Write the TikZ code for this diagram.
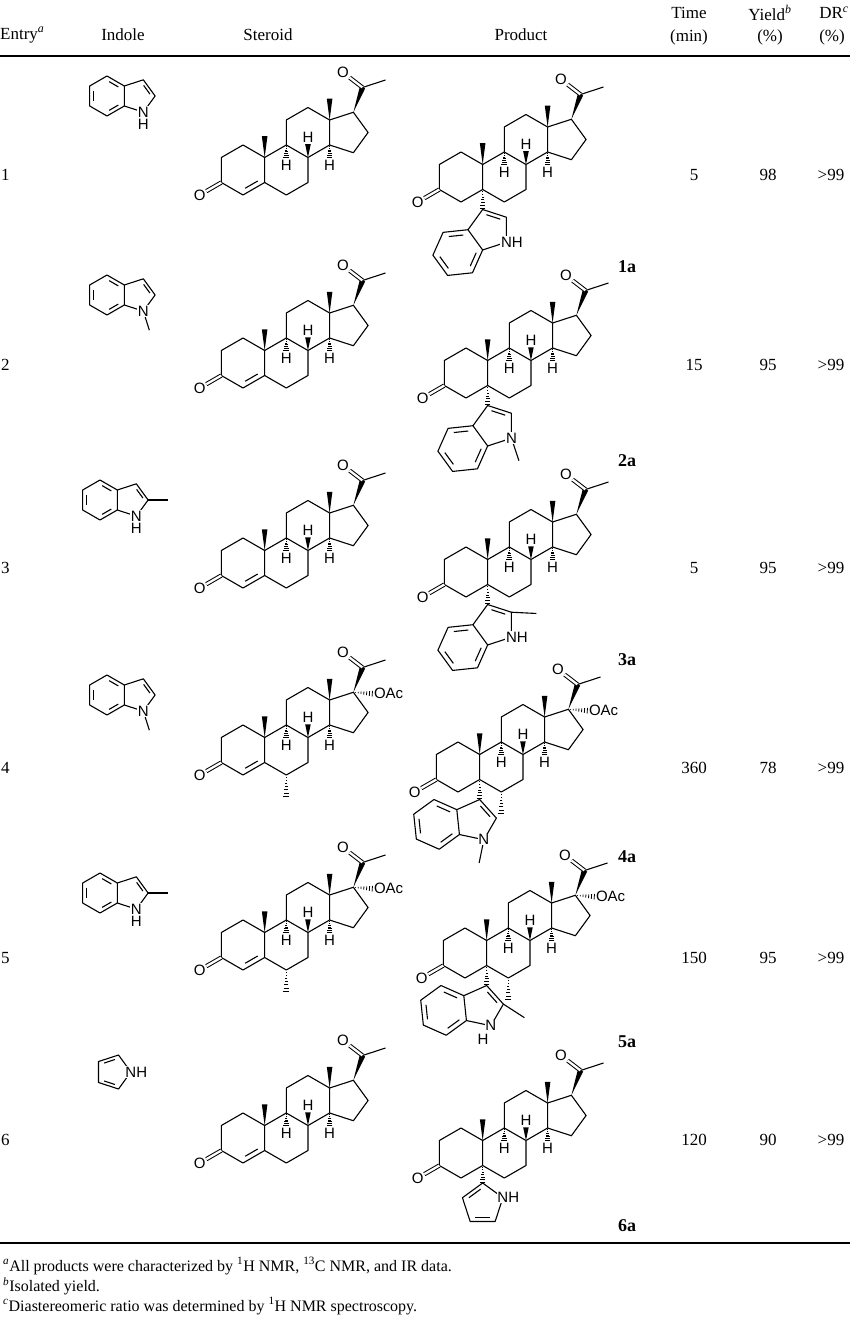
\documentclass[tikz,border=0pt]{standalone}
\usepackage{fontspec}
\setmainfont{Liberation Serif}
\newfontfamily\chemf{Liberation Sans}
\usetikzlibrary{calc}
\tikzset{
 bond/.style={line width=1.1pt},
 atom/.style={font=\chemf\fontsize{15}{15}\selectfont, inner sep=0.6pt, fill=white},
 dbl/.style={double, double distance=2.3pt, line width=1pt},
 txt/.style={font=\fontsize{17}{20}\selectfont, inner sep=0pt},
 foot/.style={font=\fontsize{16}{19}\selectfont, inner sep=0pt, anchor=west},
 lab/.style={font=\bfseries\fontsize{18}{20}\selectfont, inner sep=0pt},
}
\newcommand\wdg[2]{\fill ($(#1)$) -- ($(#2)!2.8pt!90:(#1)$) -- ($(#2)!2.8pt!-90:(#1)$) -- cycle;}
\newcommand\hsh[2]{\foreach \t in {0.1,0.24,0.38,0.52,0.66,0.8,0.94}{\coordinate (hq) at ($(#1)!\t!(#2)$); \draw[line width=0.8pt] ($(hq)!{\t*3pt}!90:(#2)$) -- ($(hq)!{\t*3pt}!-90:(#2)$);}}
\newcommand\inb[3]{\draw[bond, shorten <=2.5pt, shorten >=2.5pt] ($(#1)!.22!(#3)$) -- ($(#2)!.22!(#3)$);}
\newcommand\steroid[2]{%
 \coordinate (ra) at (0,0);
 \coordinate (c1) at (0,1); \coordinate (c2) at (-.866,.5); \coordinate (c3) at (-.866,-.5);
 \coordinate (c4) at (0,-1); \coordinate (c5) at (.866,-.5); \coordinate (c10) at (.866,.5);
 \coordinate (c9) at (1.732,1); \coordinate (c8) at (2.598,.5); \coordinate (c7) at (2.598,-.5);
 \coordinate (c6) at (1.732,-1); \coordinate (c14) at (3.464,1); \coordinate (c13) at (3.464,2);
 \coordinate (c12) at (2.598,2.5); \coordinate (c11) at (1.732,2); \coordinate (c15) at (4.415,.691);
 \coordinate (c16) at (5.003,1.5); \coordinate (c17) at (4.415,2.309);
 \draw[bond,line join=round] (c1)--(c2)--(c3)--(c4)--(c5)--(c10)--cycle (c5)--(c6)--(c7)--(c8)--(c9)--(c10)
   (c9)--(c11)--(c12)--(c13)--(c14)--(c8) (c14)--(c15)--(c16)--(c17)--(c13);
 \ifnum#1=1 \inb{c4}{c5}{ra}\fi
 \coordinate (m10) at (.866,1.35); \wdg{c10}{m10}
 \coordinate (m13) at (3.464,2.85); \wdg{c13}{m13}
 \coordinate (h8) at (2.598,1.03); \wdg{c8}{h8}
 \node[atom,fill=none] at (2.598,1.32) {H};
 \coordinate (h9) at (1.732,0.47); \hsh{c9}{h9}
 \node[atom,fill=none] at (1.732,0.18) {H};
 \coordinate (h14) at (3.464,0.47); \hsh{c14}{h14}
 \node[atom,fill=none] at (3.464,0.18) {H};
 \coordinate (c20) at (4.78,3.3); \wdg{c17}{c20}
 \node[atom] (o20) at (4.0,3.9) {O}; \draw[dbl] (c20) -- (o20);
 \coordinate (c21) at (5.7,3.6); \draw[bond] (c20) -- (c21);
 \node[atom] (o3) at (-1.732,-1) {O}; \draw[dbl] (c3) -- (o3);
 \ifnum#2=1
  \coordinate (oa) at (5.22,2.25); \hsh{c17}{oa}
  \node[atom,anchor=west,inner sep=0.3pt] at (oa) {OAc};
  \coordinate (m6) at (1.732,-1.9); \hsh{c6}{m6}
 \fi}
% product indole attached at (i3); #1: 1 NH right, 2 N-Me, 3 NH + 2-Me, 4 N/H below + 2-Me; #2 rotation
\newcommand\pindole[2]{%
 \begin{scope}[shift={(i3)},rotate=#2]
 \coordinate (a3) at (0,0); \coordinate (a2) at (0.951,-0.309); \coordinate (an) at (0.951,-1.309);
 \coordinate (a7a) at (0,-1.618); \coordinate (a3a) at (-0.588,-0.809); \coordinate (a4) at (-1.583,-0.914);
 \coordinate (a5) at (-1.990,-1.828); \coordinate (a6) at (-1.402,-2.637); \coordinate (a7) at (-0.407,-2.532);
 \coordinate (pc) at (0.263,-0.809); \coordinate (hc) at (-0.995,-1.723);
 \draw[bond,line join=round] (a3)--(a2)--(an)--(a7a)--(a3a)--cycle (a3a)--(a4)--(a5)--(a6)--(a7)--(a7a);
 \inb{a3}{a2}{pc}\inb{a3a}{a4}{hc}\inb{a5}{a6}{hc}\inb{a7}{a7a}{hc}
 \ifnum#1=2 \coordinate (nm) at ($(an)+(0.3,-0.9)$); \draw[bond] (an) -- (nm);\fi
 \ifnum#1>2 \coordinate (cm) at ($(a2)+(1,-0.05)$); \draw[bond] (a2) -- (cm);\fi
 \ifnum#1=1 \node[atom] at (an) {N\rlap{H}};\fi
 \ifnum#1=3 \node[atom] at (an) {N\rlap{H}};\fi
 \ifnum#1=2 \node[atom] at (an) {N};\fi
 \ifnum#1=4 \node[atom] at (an) {N}; \node[atom] at ($(an)+(0,-0.62)$) {H};\fi
 \end{scope}}
\newcommand\ppyr{%
 \begin{scope}[shift={(i3)}]
 \coordinate (q2) at (0,0); \coordinate (qn) at (0.809,-0.588); \coordinate (q5) at (0.5,-1.539);
 \coordinate (q4) at (-0.5,-1.539); \coordinate (q3) at (-0.809,-0.588); \coordinate (qc) at (0,-0.851);
 \draw[bond,line join=round] (q2)--(qn)--(q5)--(q4)--(q3)--cycle;
 \inb{q2}{q3}{qc}\inb{q4}{q5}{qc}
 \node[atom] at (qn) {N\rlap{H}};
 \end{scope}}
% standalone indole, origin at benzene centre; #1: 1 NH below, 2 N-Me, 3 NH below + 2-Me
\newcommand\sindole[1]{%
 \coordinate (bc) at (0,0);
 \coordinate (b4) at (0,1); \coordinate (b3a) at (.866,.5); \coordinate (b7a) at (.866,-.5);
 \coordinate (b7) at (0,-1); \coordinate (b6) at (-.866,-.5); \coordinate (b5) at (-.866,.5);
 \coordinate (b3) at (1.817,0.809); \coordinate (b2) at (2.405,0); \coordinate (bn) at (1.817,-0.809);
 \coordinate (bp) at (1.554,0);
 \draw[bond,line join=round] (b4)--(b3a)--(b7a)--(b7)--(b6)--(b5)--cycle (b3a)--(b3)--(b2)--(bn)--(b7a);
 \inb{b3a}{b4}{bc}\inb{b5}{b6}{bc}\inb{b7}{b7a}{bc}\inb{b3}{b2}{bp}
 \ifnum#1=2 \coordinate (nm) at ($(bn)+(0.3,-0.95)$); \draw[bond] (bn) -- (nm); \node[atom] at (bn) {N};\fi
 \ifnum#1=3 \coordinate (cm) at ($(b2)+(1,0)$); \draw[bond] (b2) -- (cm);\fi
 \ifnum#1=2 \else \node[atom] at (bn) {N}; \node[atom] at ($(bn)+(0,-0.62)$) {H};\fi}
\begin{document}
\begin{tikzpicture}[x=1pt,y=-1pt]
\useasboundingbox (0,0) rectangle (850,1324);
% header
\node[txt,anchor=west] (hE) at (0,35) {Entry\textsuperscript{\itshape a}};
\node[txt] (hI) at (123,35) {Indole};
\node[txt] (hS) at (268,35) {Steroid};
\node[txt] (hP) at (521,35) {Product};
\node[txt] (hT1) at (689,13) {Time};
\node[txt] (hT2) at (689,37) {(min)};
\node[txt] (hY1) at (770,13) {Yield\textsuperscript{\itshape b}};
\node[txt] (hY2) at (770,37) {(\%)};
\node[txt] (hD1) at (834,13) {DR\textsuperscript{\itshape c}};
\node[txt] (hD2) at (832,37) {(\%)};
\draw[line width=2pt] (0,56) -- (850,56);
\draw[line width=2pt] (0,1243) -- (850,1243);
% rows: entry, time, yield, DR
\foreach \y/\e/\ti/\yi in {175/1/5/98, 365/2/15/95, 568/3/5/95, 768/4/360/78, 958/5/150/95, 1140/6/120/90}{
 \node[txt,anchor=west] at (1,\y) {\e};
 \node[txt] at (694,\y) {\ti};
 \node[txt] at (768,\y) {\yi};
 \node[txt] at (831,\y) {>99};
}
% indoles
\begin{scope}[shift={(107,96)},x=20pt,y=20pt] \sindole{1} \end{scope}
\begin{scope}[shift={(107,295)},x=20pt,y=20pt] \sindole{2} \end{scope}
\begin{scope}[shift={(100,500)},x=20pt,y=20pt] \sindole{3} \end{scope}
\begin{scope}[shift={(107,695)},x=20pt,y=20pt] \sindole{2} \end{scope}
\begin{scope}[shift={(100,893)},x=20pt,y=20pt] \sindole{3} \end{scope}
\begin{scope}[shift={(113,1072)},x=21pt,y=21pt]
 \coordinate (pn) at (0:0.851); \coordinate (p2) at (72:0.851); \coordinate (p3) at (144:0.851);
 \coordinate (p4) at (216:0.851); \coordinate (p5) at (288:0.851); \coordinate (pcc) at (0,0);
 \draw[bond,line join=round] (pn)--(p2)--(p3)--(p4)--(p5)--cycle;
 \inb{p2}{p3}{pcc}\inb{p4}{p5}{pcc}
 \node[atom] at (pn) {N\rlap{H}};
\end{scope}
% steroids
\begin{scope}[shift={(243,170)},x=25pt,y=25pt] \steroid{1}{0} \end{scope}
\begin{scope}[shift={(243,363)},x=25pt,y=25pt] \steroid{1}{0} \end{scope}
\begin{scope}[shift={(243,563)},x=25pt,y=25pt] \steroid{1}{0} \end{scope}
\begin{scope}[shift={(243,750)},x=25pt,y=25pt] \steroid{1}{1} \end{scope}
\begin{scope}[shift={(243,945)},x=25pt,y=25pt] \steroid{1}{1} \end{scope}
\begin{scope}[shift={(243,1138)},x=25pt,y=25pt] \steroid{1}{0} \end{scope}
% products
\begin{scope}[shift={(461,177)},x=25pt,y=25pt] \steroid{0}{0}
 \coordinate (i3) at (0.866,-1.3); \hsh{c5}{i3} \pindole{1}{0} \end{scope}
\begin{scope}[shift={(466,373)},x=25pt,y=25pt] \steroid{0}{0}
 \coordinate (i3) at (0.866,-1.3); \hsh{c5}{i3} \pindole{2}{0} \end{scope}
\begin{scope}[shift={(466,572)},x=25pt,y=25pt] \steroid{0}{0}
 \coordinate (i3) at (0.866,-1.3); \hsh{c5}{i3} \pindole{3}{0} \end{scope}
\begin{scope}[shift={(458,767)},x=25pt,y=25pt] \steroid{0}{1}
 \coordinate (i3) at (0.866,-1.3); \hsh{c5}{i3} \pindole{2}{-30} \end{scope}
\begin{scope}[shift={(465,953)},x=25pt,y=25pt] \steroid{0}{1}
 \coordinate (i3) at (0.866,-1.3); \hsh{c5}{i3} \pindole{4}{-30} \end{scope}
\begin{scope}[shift={(461,1153)},x=25pt,y=25pt] \steroid{0}{0}
 \coordinate (i3) at (0.866,-1.2); \hsh{c5}{i3} \ppyr \end{scope}
% compound labels
\node[lab] (l1) at (627,267) {1a};
\node[lab] (l2) at (627,461) {2a};
\node[lab] (l3) at (627,660) {3a};
\node[lab] (l4) at (627,857) {4a};
\node[lab] (l5) at (627,1042) {5a};
\node[lab] (l6) at (627,1226) {6a};
% footnotes
\node[foot] (f1) at (3,1266) {\textsuperscript{\itshape a}All products were characterized by \textsuperscript{1}H NMR, \textsuperscript{13}C NMR, and IR data.};
\node[foot] (f2) at (3,1286) {\textsuperscript{\itshape b}Isolated yield.};
\node[foot] (f3) at (3,1306) {\textsuperscript{\itshape c}Diastereomeric ratio was determined by \textsuperscript{1}H NMR spectroscopy.};
\end{tikzpicture}
\end{document}
